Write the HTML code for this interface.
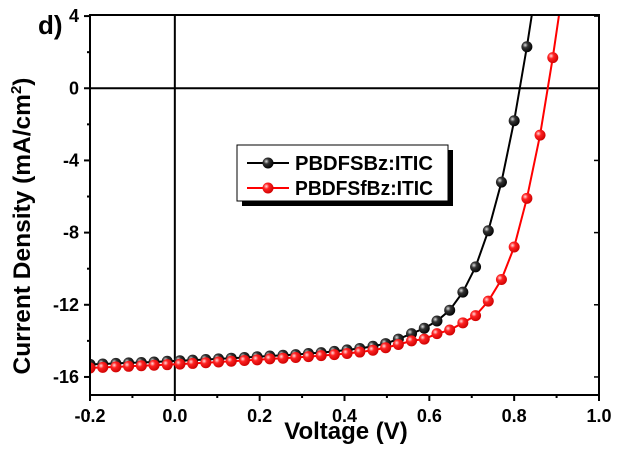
<!DOCTYPE html>
<html><head><meta charset="utf-8"><style>
body{margin:0;background:#fff;}
svg text{font-family:"Liberation Sans",Arial,sans-serif;font-weight:bold;fill:#000;}
</style></head><body>
<svg id="c" width="620" height="448" viewBox="0 0 620 448">
<defs>
<radialGradient id="gb" cx="0.35" cy="0.35" r="0.7"><stop offset="0" stop-color="#ddd"/><stop offset="0.35" stop-color="#333"/><stop offset="1" stop-color="#000"/></radialGradient>
<radialGradient id="gr" cx="0.35" cy="0.35" r="0.7"><stop offset="0" stop-color="#fdd"/><stop offset="0.35" stop-color="#f22"/><stop offset="1" stop-color="#c00"/></radialGradient>
<clipPath id="clip"><rect x="90" y="15" width="509" height="380"/></clipPath>
</defs>
</svg>
<script>
const voltage=[-0.2,-0.17,-0.139,-0.109,-0.079,-0.049,-0.018,0.012,0.042,0.073,0.103,0.133,0.164,0.194,0.224,0.255,0.285,0.315,0.345,0.376,0.406,0.436,0.467,0.497,0.527,0.558,0.588,0.618,0.648,0.679,0.709,0.739,0.77,0.80,0.83,0.861,0.891,0.921];
const blackJ=[-15.3,-15.28,-15.25,-15.22,-15.2,-15.17,-15.13,-15.1,-15.07,-15.03,-15.0,-14.96,-14.92,-14.88,-14.84,-14.8,-14.76,-14.7,-14.65,-14.58,-14.5,-14.42,-14.3,-14.15,-13.9,-13.6,-13.3,-12.9,-12.3,-11.3,-9.9,-7.9,-5.2,-1.8,2.3,7,12,18];
const redJ=[-15.5,-15.47,-15.44,-15.41,-15.38,-15.35,-15.32,-15.29,-15.25,-15.21,-15.17,-15.13,-15.09,-15.05,-15.0,-14.96,-14.92,-14.87,-14.82,-14.76,-14.7,-14.62,-14.52,-14.38,-14.2,-14.0,-13.9,-13.6,-13.4,-13.0,-12.6,-11.8,-10.6,-8.8,-6.1,-2.6,1.7,6.5];
const xTicks=[-0.2,0,0.2,0.4,0.6,0.8,1.0];
const xTickLabels=["-0.2","0.0","0.2","0.4","0.6","0.8","1.0"];
const yTicks=[4,0,-4,-8,-12,-16];
const yTickLabels=["4","0","-4","-8","-12","-16"];
const seriesNames=["PBDFSBz:ITIC","PBDFSfBz:ITIC"];
const NS="http://www.w3.org/2000/svg";
const svg=document.getElementById('c');
const X0=90,X1=599,Y0=15,Y1=395,xmin=-0.2,xmax=1.0,ymin=-17,ymax=4.06;
const sx=v=>X0+(v-xmin)/(xmax-xmin)*(X1-X0);
const sy=v=>Y1-(v-ymin)/(ymax-ymin)*(Y1-Y0);
function el(t,a,p){const e=document.createElementNS(NS,t);for(const k in a)e.setAttribute(k,a[k]);(p||svg).appendChild(e);return e;}
function txt(x,y,s,a){const e=el('text',Object.assign({x:x,y:y},a));e.textContent=s;return e;}
let l=el('line',{x1:sx(0),x2:sx(0),y1:Y0,y2:Y1,stroke:'#000','stroke-width':2});


l=el('line',{x1:X0,x2:X1,y1:sy(0),y2:sy(0),stroke:'#000','stroke-width':2});


const g=el('g',{'clip-path':'url(#clip)'});


[[blackJ,'#000','url(#gb)','black-series'],[redJ,'#f00','url(#gr)','red-series']].forEach(([d,c,f,n])=>{
  const p=el('polyline',{points:voltage.map((v,i)=>sx(v)+','+sy(d[i])).join(' '),fill:'none',stroke:c,'stroke-width':2},g);
  
  
  voltage.forEach((v,i)=>{
    const m=el('circle',{cx:sx(v),cy:sy(d[i]),r:5.5,fill:f},g);
    
    
  });
});
const fr=el('rect',{x:X0,y:Y0,width:X1-X0,height:Y1-Y0,fill:'none',stroke:'#000','stroke-width':2});


xTicks.forEach((v,i)=>{
  el('line',{x1:sx(v),x2:sx(v),y1:Y1,y2:Y1+6,stroke:'#000','stroke-width':2});
  if(i<xTicks.length-1){const m=(v+xTicks[i+1])/2;el('line',{x1:sx(m),x2:sx(m),y1:Y1,y2:Y1+3,stroke:'#000','stroke-width':2});}
  const t=txt(sx(v),422,xTickLabels[i],{'text-anchor':'middle','font-size':18});
  
  
});
yTicks.forEach((v,i)=>{
  el('line',{x1:X0-6,x2:X0,y1:sy(v),y2:sy(v),stroke:'#000','stroke-width':2});
  el('line',{x1:X1-5,x2:X1,y1:sy(v),y2:sy(v),stroke:'#000','stroke-width':1.5});
  const m=v-2;el('line',{x1:X0-3,x2:X0,y1:sy(m),y2:sy(m),stroke:'#000','stroke-width':2});
  const t=txt(79,sy(v)+6,yTickLabels[i],{'text-anchor':'end','font-size':18});
  
  
});
let t=txt(346,439,'Voltage (V)',{'text-anchor':'middle','font-size':24});


t=el('text',{x:0,y:0,'text-anchor':'middle','font-size':24.5,transform:'translate(30,226) rotate(-90)'});
t.innerHTML='Current Density (mA/cm<tspan dy="-9" font-size="15">2</tspan><tspan dy="9">)</tspan>';


t=txt(38,34,'d)',{'font-size':26});


const lg=el('g',{});


el('rect',{x:242,y:150,width:211,height:56,fill:'#000'},lg);
el('rect',{x:237,y:145,width:211,height:56,fill:'#fff',stroke:'#000','stroke-width':1},lg);
[['#000','url(#gb)',163],['#f00','url(#gr)',188]].forEach(([c,f,y],i)=>{
  el('line',{x1:247,x2:289,y1:y,y2:y,stroke:c,'stroke-width':2},lg);
  el('circle',{cx:268,cy:y,r:5.5,fill:f},lg);
  const e=txt(295,y+7,seriesNames[i],{'font-size':20,'textLength':138,'lengthAdjust':'spacingAndGlyphs'});
  lg.appendChild(e);
  
  
});
</script>
</body></html>
